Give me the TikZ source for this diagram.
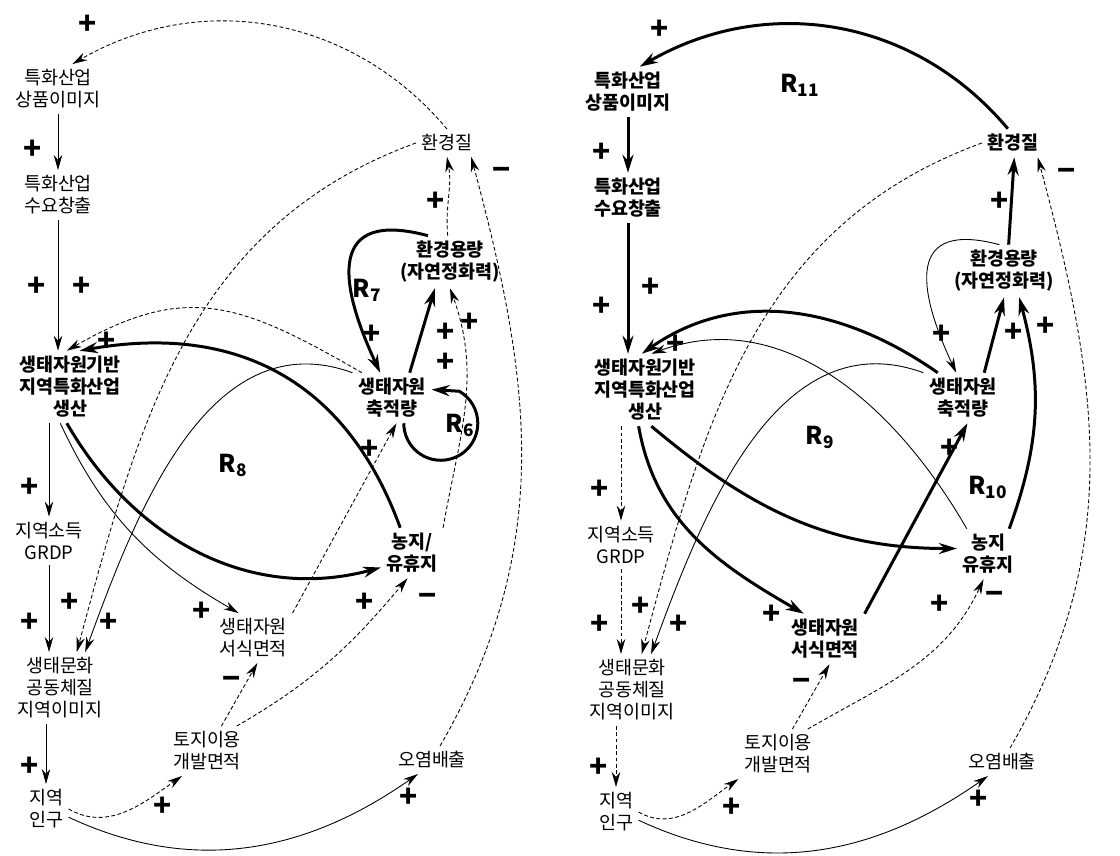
\documentclass[tikz,border=0pt]{standalone}
\usepackage{fontspec}
\setmainfont{Noto Sans CJK KR}
\usetikzlibrary{arrows.meta}

\begin{document}
\begin{tikzpicture}[x=0.2mm, y=0.2mm,
  quantity/.style={font=\fontsize{10.5}{12.5}\selectfont, align=center, inner sep=3pt},
  keyquantity/.style={quantity, font=\fontsize{10.5}{12.5}\selectfont\bfseries},
  polarity/.style={font=\fontsize{17}{17}\selectfont\bfseries, inner sep=0pt},
  loopname/.style={font=\fontsize{14}{14}\selectfont\bfseries, inner sep=0pt},
  link/.style={-{Stealth[length=3mm, width=1.7mm]}, line width=0.5pt},
  dashlink/.style={link, dash pattern=on 2.2pt off 1.4pt},
  mainlink/.style={-{Stealth[length=3.6mm, width=2.2mm]}, line width=1.7pt}
]
\useasboundingbox (0,0) rectangle (1120,-856);

% Left diagram: variables
\node[quantity] (imgL) at (58,-89) {특화산업\\상품이미지};
\node[quantity] (demL) at (58,-195) {특화산업\\수요창출};
\node[keyquantity] (prodL) at (70,-387) {생태자원기반\\지역특화산업\\생산};
\node[quantity] (incL) at (49,-541) {지역소득\\GRDP};
\node[quantity] (cultL) at (60,-688) {생태문화\\공동체질\\지역이미지};
\node[quantity] (popL) at (46,-809) {지역\\인구};
\node[quantity] (envL) at (447,-143) {환경질};
\node[keyquantity] (capL) at (450,-262) {환경용량\\(자연정화력)};
\node[keyquantity] (stockL) at (392,-398) {생태자원\\축적량};
\node[keyquantity] (farmL) at (412,-553) {농지/\\유휴지};
\node[quantity] (habL) at (253,-638) {생태자원\\서식면적};
\node[quantity] (landL) at (207,-751) {토지이용\\개발면적};
\node[quantity] (pollL) at (432,-760) {오염배출};

% Left diagram: links
\draw[dashlink] (envL.north) to[out=130,in=30] (imgL.60);
\draw[link] (imgL.south) -- (demL.north);
\draw[link] (demL.south) -- (demL.south |- prodL.north);
\draw[dashlink] (stockL.140) to[out=150,in=30,looseness=1.2] (prodL.95);
\draw[mainlink] (farmL.115) to[out=110,in=10,looseness=1.1] (prodL.75);
\draw[mainlink] (prodL.265) to[out=-60,in=195] (farmL.205);
\draw[link] (prodL.255) to[out=-65,in=150] (habL.120);
\draw[link] (incL.north |- prodL.south) -- (incL.north);
\draw[link] (incL.south) -- (incL.south |- cultL.north);
\draw[link] (popL.north |- cultL.south) -- (popL.north);
\draw[dashlink] (envL.west) to[out=200,in=75] (cultL.65);
\draw[link] (stockL.north west) to[out=160,in=70] (cultL.55);
\draw[mainlink] (capL.130) to[out=165,in=115,looseness=1.8] (stockL.115);
\draw[mainlink] (stockL.55) -- (capL.240);
\draw[mainlink] (stockL.-65) arc[start angle=180,end angle=420,radius=37] -- (stockL.12);
\draw[dashlink] (capL.95) to[out=95,in=-80] (envL.south);
\draw[dashlink] (farmL.north east) to[out=80,in=-70] (capL.south);
\draw[dashlink] (habL.north east) -- (stockL.-80);
\draw[dashlink] (landL.60) -- (habL.-80);
\draw[dashlink] (landL.40) to[out=30,in=-130] (farmL.-100);
\draw[dashlink] (popL.east) to[out=-30,in=215] (landL.225);
\draw[link] (popL.-20) to[out=-25,in=215] (pollL.225);
\draw[dashlink] (pollL.60) to[out=60,in=-75] (envL.-30);

% Left diagram: polarities and loops
\node[polarity] (sL1) at (88,-25) {+};
\node[polarity] (sL2) at (33,-150) {+};
\node[polarity] (sL3) at (37,-287) {+};
\node[polarity] (sL4) at (82,-287) {+};
\node[polarity] (sL5) at (107,-342) {+};
\node[polarity] (sL6) at (372,-335) {+};
\node[polarity] (sL7) at (446,-333) {+};
\node[polarity] (sL8) at (446,-363) {+};
\node[polarity] (sL9) at (470,-323) {+};
\node[polarity] (sL10) at (436,-202) {+};
\node[polarity] (sL11) at (502,-174) {−};
\node[polarity] (sL12) at (370,-450) {+};
\node[polarity] (sL13) at (30,-488) {+};
\node[polarity] (sL14) at (30,-623) {+};
\node[polarity] (sL15) at (70,-603) {+};
\node[polarity] (sL16) at (109,-623) {+};
\node[polarity] (sL17) at (202,-612) {+};
\node[polarity] (sL18) at (365,-603) {+};
\node[polarity] (sL19) at (428,-600) {−};
\node[polarity] (sL20) at (232,-683) {−};
\node[polarity] (sL21) at (30,-767) {+};
\node[polarity] (sL22) at (163,-807) {+};
\node[polarity] (sL23) at (409,-798) {+};
\node[loopname] (R7) at (367,-290) {R\textsubscript{7}};
\node[loopname] (R6) at (460,-425) {R\textsubscript{6}};
\node[loopname] (R8) at (233,-465) {R\textsubscript{8}};

% Right diagram: variables
\node[keyquantity] (imgR) at (628,-92) {특화산업\\상품이미지};
\node[keyquantity] (demR) at (628,-198) {특화산업\\수요창출};
\node[keyquantity] (prodR) at (645,-390) {생태자원기반\\지역특화산업\\생산};
\node[quantity] (incR) at (621,-545) {지역소득\\GRDP};
\node[quantity] (cultR) at (632,-690) {생태문화\\공동체질\\지역이미지};
\node[quantity] (popR) at (616,-812) {지역\\인구};
\node[keyquantity] (envR) at (1013,-143) {환경질};
\node[keyquantity] (capR) at (1004,-271) {환경용량\\(자연정화력)};
\node[keyquantity] (stockR) at (963,-398) {생태자원\\축적량};
\node[keyquantity] (farmR) at (988,-554) {농지\\유휴지};
\node[keyquantity] (habR) at (825,-639) {생태자원\\서식면적};
\node[quantity] (landR) at (778,-754) {토지이용\\개발면적};
\node[quantity] (pollR) at (1002,-762) {오염배출};

% Right diagram: links
\draw[mainlink] (envR.110) to[out=130,in=30] (imgR.65);
\draw[mainlink] (imgR.south) -- (demR.north);
\draw[mainlink] (demR.south) -- (demR.south |- prodR.north);
\draw[mainlink] (stockR.135) to[out=145,in=35] (prodR.95);
\draw[link] (farmR.130) to[out=120,in=20] (prodR.80);
\draw[dashlink] (incR.north |- prodR.south) -- (incR.north);
\draw[dashlink] (incR.south) -- (incR.south |- cultR.north);
\draw[dashlink] (popR.north |- cultR.south) -- (popR.north);
\draw[dashlink] (envR.west) to[out=200,in=75] (cultR.75);
\draw[link] (stockR.north west) to[out=160,in=70] (cultR.62);
\draw[link] (capR.100) to[out=165,in=115,looseness=1.8] (stockR.105);
\draw[mainlink] (stockR.50) -- (capR.south);
\draw[mainlink] (capR.80) -- (envR.-85);
\draw[dashlink] (pollR.60) to[out=60,in=-75] (envR.-30);
\draw[mainlink] (prodR.-80) to[out=-40,in=180] (farmR.170);
\draw[mainlink] (prodR.260) to[out=-80,in=150] (habR.130);
\draw[mainlink] (habR.north east) -- (stockR.-80);
\draw[mainlink] (farmR.50) to[out=70,in=-75] (capR.-60);
\draw[dashlink] (landR.60) -- (habR.-80);
\draw[dashlink] (landR.40) to[out=30,in=-115] (farmR.-100);
\draw[dashlink] (popR.east) to[out=-30,in=215] (landR.south west);
\draw[link] (popR.-20) to[out=-25,in=215] (pollR.225);

% Right diagram: polarities and loops
\node[polarity] (sR1) at (660,-30) {+};
\node[polarity] (sR2) at (602,-153) {+};
\node[polarity] (sR3) at (1067,-175) {−};
\node[polarity] (sR4) at (1000,-202) {+};
\node[polarity] (sR5) at (602,-307) {+};
\node[polarity] (sR6) at (651,-288) {+};
\node[polarity] (sR7) at (676,-345) {+};
\node[polarity] (sR8) at (942,-335) {+};
\node[polarity] (sR9) at (1014,-333) {+};
\node[polarity] (sR10) at (1046,-327) {+};
\node[polarity] (sR11) at (950,-449) {+};
\node[polarity] (sR12) at (600,-490) {+};
\node[polarity] (sR13) at (772,-615) {+};
\node[polarity] (sR14) at (940,-605) {+};
\node[polarity] (sR15) at (995,-598) {−};
\node[polarity] (sR16) at (600,-625) {+};
\node[polarity] (sR17) at (641,-607) {+};
\node[polarity] (sR18) at (679,-625) {+};
\node[polarity] (sR19) at (802,-685) {−};
\node[polarity] (sR20) at (599,-768) {+};
\node[polarity] (sR21) at (732,-808) {+};
\node[polarity] (sR22) at (979,-800) {+};
\node[loopname] (R11) at (800,-85) {R\textsubscript{11}};
\node[loopname] (R9) at (820,-437) {R\textsubscript{9}};
\node[loopname] (R10) at (988,-487) {R\textsubscript{10}};

\end{tikzpicture}
\end{document}
